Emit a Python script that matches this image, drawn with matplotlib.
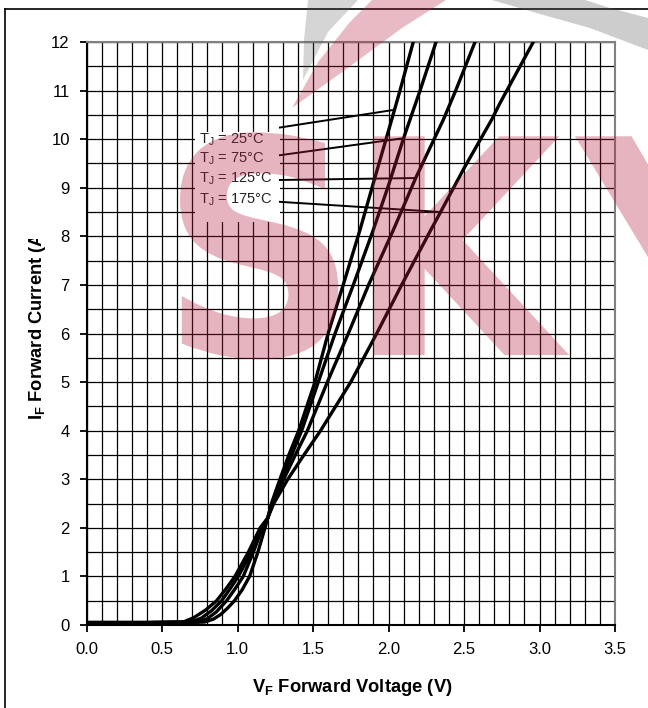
import matplotlib
matplotlib.use('Agg')
import matplotlib.pyplot as plt
from matplotlib.ticker import MultipleLocator, FormatStrFormatter
from matplotlib.textpath import TextPath
from matplotlib.patches import PathPatch, Rectangle, Polygon
from matplotlib.font_manager import FontProperties
from matplotlib.transforms import Affine2D, Bbox
from matplotlib.lines import Line2D

plt.rcParams['font.family'] = 'Liberation Sans'
plt.rcParams['mathtext.fontset'] = 'custom'
plt.rcParams['mathtext.rm'] = 'Liberation Sans'
plt.rcParams['mathtext.bf'] = 'Liberation Sans:bold'

# forward voltage (V) / forward current (A)
v25 = [0.00, 0.40, 0.78, 0.84, 0.89, 0.935, 0.98, 1.03, 1.08, 1.135, 1.182, 1.20, 1.23,
       1.281, 1.34, 1.405, 1.513, 1.600, 1.700, 1.811, 1.900, 2.021, 2.076, 2.164]
i25 = [0.05, 0.05, 0.06, 0.12, 0.22, 0.35, 0.50, 0.72, 1.00, 1.50, 2.00, 2.20, 2.55,
       3.00, 3.50, 4.00, 5.00, 6.00, 7.00, 8.13, 9.10, 10.40, 11.00, 12.00]

v75 = [0.00, 0.40, 0.74, 0.80, 0.86, 0.928, 0.985, 1.038, 1.105, 1.165, 1.20, 1.228, 1.293,
       1.359, 1.425, 1.535, 1.646, 1.767, 1.899, 2.000, 2.100, 2.142, 2.209, 2.315]
i75 = [0.05, 0.05, 0.06, 0.13, 0.27, 0.50, 0.75, 1.00, 1.50, 2.00, 2.20, 2.50, 3.00,
       3.50, 4.00, 5.00, 6.00, 7.00, 8.13, 9.05, 10.02, 10.40, 11.00, 12.00]

v125 = [0.00, 0.40, 0.69, 0.76, 0.83, 0.895, 0.952, 1.005, 1.092, 1.158, 1.20, 1.232, 1.306,
        1.383, 1.463, 1.595, 1.734, 1.868, 2.032, 2.180, 2.363, 2.445, 2.573]
i125 = [0.05, 0.05, 0.06, 0.14, 0.30, 0.50, 0.75, 1.00, 1.50, 2.00, 2.20, 2.50, 3.00,
        3.50, 4.00, 5.00, 6.00, 7.00, 8.13, 9.20, 10.40, 11.00, 12.00]

v175 = [0.00, 0.40, 0.64, 0.71, 0.79, 0.862, 0.925, 0.983, 1.072, 1.150, 1.20, 1.240, 1.333,
        1.440, 1.550, 1.750, 1.922, 2.087, 2.280, 2.345, 2.500, 2.683, 2.738, 2.959]
i175 = [0.05, 0.05, 0.06, 0.15, 0.31, 0.50, 0.75, 1.00, 1.50, 2.00, 2.20, 2.50, 3.00,
        3.50, 4.00, 5.00, 6.00, 7.00, 8.13, 8.50, 9.40, 10.40, 10.74, 12.00]

labels = [r'T$_\mathrm{J}$ = 25°C', r'T$_\mathrm{J}$ = 75°C',
          r'T$_\mathrm{J}$ = 125°C', r'T$_\mathrm{J}$ = 175°C']
label_i = [10.0, 9.59, 9.18, 8.75]
lead_start_i = [10.24, 9.67, 9.16, 8.71]
lead_end_v = [2.03, 2.10, 2.18, 2.345]
lead_end_i = [10.6, 10.02, 9.2, 8.5]

W, H = 648, 708
fig = plt.figure(figsize=(W / 100, H / 100), dpi=100)
ax = fig.add_axes([86.5 / W, 1 - 625 / H, (615 - 86.5) / W, (625 - 42) / H])

for v, i in [(v25, i25), (v75, i75), (v125, i125), (v175, i175)]:
    ax.plot(v, i, color='black', lw=2.4, solid_joinstyle='round', zorder=3)

# white box behind the temperature labels
ax.add_patch(Rectangle((0.719, 8.30), 1.281 - 0.719, 10.15 - 8.30,
                       facecolor='white', edgecolor='none', zorder=1.8))
for k in range(4):
    ax.text(0.745, label_i[k], labels[k], fontsize=10.5, va='center', ha='left',
            color='#222222', zorder=4)
    ax.plot([1.281, lead_end_v[k]], [lead_start_i[k], lead_end_i[k]],
            color='black', lw=1.4, zorder=2)

ax.set_xlim(0, 3.5)
ax.set_ylim(0, 12)
ax.xaxis.set_major_locator(MultipleLocator(0.5))
ax.xaxis.set_minor_locator(MultipleLocator(0.1))
ax.yaxis.set_major_locator(MultipleLocator(1))
ax.yaxis.set_minor_locator(MultipleLocator(0.5))
ax.xaxis.set_major_formatter(FormatStrFormatter('%.1f'))
ax.grid(which='both', color='black', lw=0.9)
ax.tick_params(which='minor', length=0)
ax.tick_params(which='major', direction='out', length=5, width=1.3, labelsize=12, pad=7)
for s in ['left', 'bottom']:
    ax.spines[s].set_color('black')
    ax.spines[s].set_linewidth(1.5)
for s in ['top', 'right']:
    ax.spines[s].set_color('#808080')
    ax.spines[s].set_linewidth(1.5)

fig.text(352 / W, 1 - 688 / H, r'V$_\mathbf{F}$ Forward Voltage (V)', ha='center', va='center',
         fontsize=13.2, fontweight='bold')
yl = fig.text(38 / W, 1 - 420 / H, r'I$_\mathbf{F}$ Forward Current (A)', rotation=90,
              ha='center', va='bottom', fontsize=13.2, fontweight='bold')
yl.set_clip_box(Bbox.from_extents(0, 0, W, H - 239))
yl.set_clip_on(True)

# outer frame (only left and top edges are inside the picture)
fig.add_artist(Line2D([5 / W, 5 / W], [0, 1 - 9 / H], transform=fig.transFigure, color='black', lw=1.2))
fig.add_artist(Line2D([5 / W, 1], [1 - 9 / H, 1 - 9 / H], transform=fig.transFigure, color='black', lw=1.2))

# watermark logo drawn over the chart
px = Affine2D().scale(1, -1).translate(0, H)   # image pixel coords -> display
wm_font = FontProperties(family='DejaVu Sans', weight='bold')
for letter, left in [('S', 180), ('K', 373), ('Y', 575)]:
    tp = TextPath((0, 0), letter, size=1, prop=wm_font)
    x0 = tp.get_extents().x0
    tr = Affine2D().scale(275, 300).translate(left - x0 * 275, H - 355)
    fig.add_artist(PathPatch(tp, transform=tr, facecolor='#b61e3d', edgecolor='none',
                             alpha=0.33, zorder=10))
fig.add_artist(Polygon([(292, 108), (318, 62), (350, 22), (372, 0), (446, 0), (402, 28), (345, 70)],
                       transform=px, facecolor='#b61e3d', edgecolor='none', alpha=0.3, zorder=10))
fig.add_artist(Polygon([(303, 80), (304, 40), (308, 0), (358, 0), (328, 32)],
                       transform=px, facecolor='#5a5a5a', edgecolor='none', alpha=0.25, zorder=10))
fig.add_artist(Polygon([(492, 0), (540, 14), (590, 28), (648, 50), (648, 18), (610, 8), (585, 0)],
                       transform=px, facecolor='#5a5a5a', edgecolor='none', alpha=0.3, zorder=10))

fig.savefig('out.png', dpi=100)
